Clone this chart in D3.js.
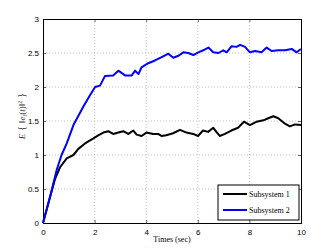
<!DOCTYPE html>
<html>
<head>
  <script src="https://d3js.org/d3.v7.min.js"></script>
  <style>
    body { margin: 0; background: #fff; }
    svg { display: block; }
    .tick text { font-family: "Liberation Sans", Arial, sans-serif; font-size: 8px; fill: #000; }
  </style>
</head>
<body>
  <svg id="root" width="332" height="250"></svg>
  <script>
    var time1 = [0, 0.27, 0.47, 0.66, 0.92, 1.18, 1.37, 1.63, 1.89, 2.14, 2.34, 2.53, 2.72, 2.92, 3.11, 3.31, 3.5, 3.63, 3.82, 4.01, 4.27, 4.46, 4.59, 4.78, 5.04, 5.31, 5.56, 5.82, 6.01, 6.2, 6.4, 6.6, 6.72, 6.85, 7.05, 7.3, 7.56, 7.79, 8.02, 8.28, 8.54, 8.73, 8.93, 9.12, 9.38, 9.57, 9.77, 10];
    var sub1 = [0, 0.38, 0.65, 0.82, 0.95, 1.0, 1.09, 1.17, 1.23, 1.29, 1.33, 1.35, 1.31, 1.33, 1.35, 1.31, 1.36, 1.30, 1.28, 1.33, 1.31, 1.31, 1.28, 1.29, 1.32, 1.37, 1.33, 1.31, 1.28, 1.36, 1.34, 1.40, 1.34, 1.28, 1.31, 1.36, 1.40, 1.49, 1.44, 1.49, 1.51, 1.54, 1.57, 1.54, 1.46, 1.42, 1.45, 1.44];
    var time2 = [0, 0.27, 0.53, 0.72, 0.92, 1.18, 1.56, 1.82, 2.02, 2.21, 2.4, 2.72, 2.92, 3.18, 3.44, 3.57, 3.7, 3.82, 4.08, 4.34, 4.6, 4.86, 5.05, 5.25, 5.44, 5.63, 5.83, 6.02, 6.21, 6.41, 6.6, 6.8, 6.99, 7.12, 7.31, 7.5, 7.64, 7.83, 8.02, 8.22, 8.47, 8.67, 8.86, 9.12, 9.38, 9.64, 9.83, 10];
    var sub2 = [0, 0.38, 0.78, 1.0, 1.17, 1.44, 1.71, 1.88, 2.0, 2.02, 2.16, 2.17, 2.24, 2.17, 2.17, 2.24, 2.19, 2.29, 2.35, 2.39, 2.44, 2.49, 2.43, 2.46, 2.51, 2.5, 2.47, 2.51, 2.54, 2.58, 2.51, 2.5, 2.54, 2.51, 2.6, 2.59, 2.62, 2.59, 2.51, 2.53, 2.51, 2.58, 2.53, 2.54, 2.54, 2.56, 2.51, 2.56];
    var seriesNames = ['Subsystem 1', 'Subsystem 2'];
    var seriesColors = ['#000000', '#0000ff'];
    var xTicks = [0, 2, 4, 6, 8, 10];
    var yTicks = [0, 0.5, 1, 1.5, 2, 2.5, 3];

    var plotL = 43, plotR = 301, plotT = 19, plotB = 223;
    var svg = d3.select('#root');

    var x = d3.scaleLinear().domain([0, 10]).range([plotL, plotR]);
    var y = d3.scaleLinear().domain([0, 3]).range([plotB, plotT]);

    // grid
    var grid = svg.append('g').attr('stroke', '#b0b0b0').attr('stroke-width', 0.8).attr('stroke-dasharray', '1,2');
    grid.selectAll('.gx').data(xTicks.slice(1, -1)).enter().append('line')
      .attr('x1', function (d) { return x(d); }).attr('x2', function (d) { return x(d); })
      .attr('y1', plotT).attr('y2', plotB);
    grid.selectAll('.gy').data(yTicks.slice(1, -1)).enter().append('line')
      .attr('y1', function (d) { return y(d); }).attr('y2', function (d) { return y(d); })
      .attr('x1', plotL).attr('x2', plotR);

    // axes
    svg.append('g').attr('transform', 'translate(0,' + plotB + ')')
      .call(d3.axisBottom(x).tickValues(xTicks).tickSize(-3).tickPadding(6).tickFormat(d3.format('d')));
    svg.append('g').attr('transform', 'translate(' + plotL + ',0)')
      .call(d3.axisLeft(y).tickValues(yTicks).tickSize(-3).tickPadding(4).tickFormat(function (d) { return d; }));
    svg.append('g').attr('transform', 'translate(0,' + plotT + ')')
      .call(d3.axisTop(x).tickValues(xTicks).tickSize(-3).tickFormat(''));
    svg.append('g').attr('transform', 'translate(' + plotR + ',0)')
      .call(d3.axisRight(y).tickValues(yTicks).tickSize(-3).tickFormat(''));
    svg.selectAll('.domain').attr('stroke', '#000').attr('stroke-width', 1);
    svg.selectAll('.tick line').attr('stroke', '#000').attr('stroke-width', 0.6);

    // lines
    var line = d3.line().x(function (d) { return x(d[0]); }).y(function (d) { return y(d[1]); });
    var data1 = time1.map(function (t, i) { return [t, sub1[i]]; });
    var data2 = time2.map(function (t, i) { return [t, sub2[i]]; });
    [data1, data2].forEach(function (data, i) {
      svg.append('path').datum(data)
        .attr('fill', 'none').attr('stroke', seriesColors[i]).attr('stroke-width', 2)
        .attr('stroke-linejoin', 'round').attr('d', line);
    });

    // axis labels
    svg.append('text').attr('x', (plotL + plotR) / 2).attr('y', 242)
      .attr('text-anchor', 'middle').attr('font-family', '"Liberation Serif", serif').attr('font-size', 8)
      .text('Times (sec)');
    var yl = svg.append('text').attr('transform', 'translate(25,116) rotate(-90)')
      .attr('text-anchor', 'middle').attr('font-family', '"Liberation Serif", serif').attr('font-size', 9)
      .attr('fill', '#333');
    yl.append('tspan').attr('font-style', 'italic').text('E');
    yl.append('tspan').attr('font-size', 11).text(' { ');
    yl.append('tspan').text('‖');
    yl.append('tspan').attr('font-style', 'italic').text('e');
    yl.append('tspan').attr('font-style', 'italic').attr('font-size', 6).attr('dy', 2).text('i');
    yl.append('tspan').attr('dy', -2).text('(');
    yl.append('tspan').attr('font-style', 'italic').text('t');
    yl.append('tspan').text(')‖');
    yl.append('tspan').attr('font-size', 6).attr('dy', -3.5).text('2');
    yl.append('tspan').attr('dy', 3.5).attr('font-size', 11).text(' }');

    // legend
    var leg = svg.append('g');
    leg.append('rect').attr('x', 218).attr('y', 185).attr('width', 81).attr('height', 35)
      .attr('fill', '#fff').attr('stroke', '#000').attr('stroke-width', 1);
    seriesNames.forEach(function (name, i) {
      var ly = 194 + i * 16;
      leg.append('line').attr('x1', 223).attr('x2', 247).attr('y1', ly).attr('y2', ly)
        .attr('stroke', seriesColors[i]).attr('stroke-width', 2);
      leg.append('text').attr('x', 249).attr('y', ly + 2.5)
        .attr('font-family', '"Liberation Serif", serif').attr('font-size', 8).text(name);
    });
  </script>
</body>
</html>
